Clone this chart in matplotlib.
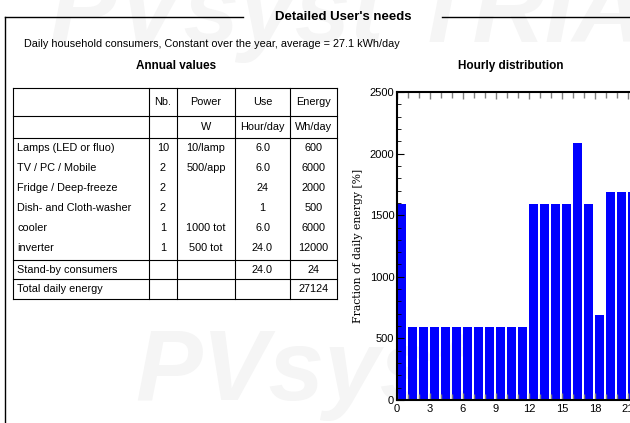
import matplotlib
matplotlib.use("Agg")
import matplotlib.pyplot as plt
from matplotlib.ticker import MultipleLocator

plt.rcParams['font.family'] = ['Liberation Sans', 'DejaVu Sans']

# --- table data ---
col_head1 = ["", "Nb.", "Power", "Use", "Energy"]
col_head2 = ["", "", "W", "Hour/day", "Wh/day"]
names = ["Lamps (LED or fluo)", "TV / PC / Mobile", "Fridge / Deep-freeze",
         "Dish- and Cloth-washer", "cooler", "inverter"]
nb = ["10", "2", "2", "2", "1", "1"]
power = ["10/lamp", "500/app", "", "", "1000 tot", "500 tot"]
use = ["6.0", "6.0", "24", "1", "6.0", "24.0"]
energy = ["600", "6000", "2000", "500", "6000", "12000"]
standby = ["Stand-by consumers", "", "", "24.0", "24"]
total = ["Total daily energy", "", "", "", "27124"]

# --- hourly distribution ---
hours = list(range(24))
hourly = [1590, 590, 590, 590, 590, 590, 590, 590, 590, 590, 590, 590,
          1590, 1590, 1590, 1590, 2090, 1590, 690, 1690, 1690, 1690, 1690, 1590]

fig = plt.figure(figsize=(6.3, 4.23), dpi=100)

# full-figure axes in pixel coords for the frame and table
ax0 = fig.add_axes([0, 0, 1, 1])
ax0.set_xlim(0, 630)
ax0.set_ylim(423, 0)
ax0.axis("off")

# watermark
ax0.text(50, 42, "PVsyst TRIAL", fontsize=72, fontstyle="italic", fontweight="bold",
         color="#f5f5f5", ha="left", va="baseline", zorder=0)
ax0.text(135, 400, "PVsyst", fontsize=72, fontstyle="italic", fontweight="bold",
         color="#f5f5f5", ha="left", va="baseline", zorder=0)

# frame
ax0.plot([5, 243], [17, 17], color="black", lw=1)
ax0.plot([442, 630], [17, 17], color="black", lw=1)
ax0.plot([5, 5], [17, 423], color="black", lw=1)
ax0.text(343, 17, "Detailed User's needs", fontsize=9.5, fontweight="bold",
         ha="center", va="center")
ax0.text(24, 44, "Daily household consumers, Constant over the year, average = 27.1 kWh/day",
         fontsize=7.8, ha="left", va="center")
ax0.text(176, 66, "Annual values", fontsize=8.5, fontweight="bold", ha="center", va="center")
ax0.text(511, 66, "Hourly distribution", fontsize=8.5, fontweight="bold", ha="center", va="center")

# table grid
xs = [13, 149, 177, 235, 290, 337]
top, bot = 88, 299
hlines = [88, 116, 138, 260, 279, 299]
for y in hlines:
    ax0.plot([xs[0], xs[-1]], [y, y], color="black", lw=0.8)
for x in xs:
    ax0.plot([x, x], [top, bot], color="black", lw=0.8)

def put_row(cells, yc):
    for i, c in enumerate(cells):
        if i == 0:
            ax0.text(xs[0] + 4, yc, c, fontsize=7.8, ha="left", va="center")
        else:
            ax0.text((xs[i] + xs[i + 1]) / 2, yc, c, fontsize=7.8, ha="center", va="center")

put_row(col_head1, 102)
put_row(col_head2, 127)
rows = list(zip(names, nb, power, use, energy))
for k, r in enumerate(rows):
    put_row(r, 148 + 20 * k)
put_row(standby, 270)
put_row(total, 289)

# bar chart axes (extends past the right edge, as in the reference)
ax = fig.add_axes([397 / 630, 23 / 423, 264 / 630, 308 / 423])
ax.bar(hours, hourly, width=0.82, align="edge", color="#0000ff", edgecolor="none", zorder=1)
ax.set_xlim(0, 24)
ax.set_ylim(0, 2500)
ax.xaxis.set_major_locator(MultipleLocator(3))
ax.xaxis.set_minor_locator(MultipleLocator(1))
ax.yaxis.set_major_locator(MultipleLocator(500))
ax.yaxis.set_minor_locator(MultipleLocator(100))
ax.tick_params(axis="x", which="both", direction="in", top=True, bottom=True,
               labelsize=8, pad=3)
ax.tick_params(axis="x", which="major", length=5, width=1, color="gray")
ax.tick_params(axis="x", which="minor", length=4, width=1, color="gray")
ax.tick_params(axis="y", which="both", direction="in", left=True, right=True,
               labelsize=8, pad=2)
ax.tick_params(axis="y", which="major", length=5)
ax.tick_params(axis="y", which="minor", length=3)
for s in ax.spines.values():
    s.set_linewidth(1.5)
ax.set_ylabel("Fraction of daily energy [%]", family="DejaVu Serif", fontsize=7.8, labelpad=5)
ax.patch.set_alpha(0)

fig.savefig("out.png", dpi=100)
